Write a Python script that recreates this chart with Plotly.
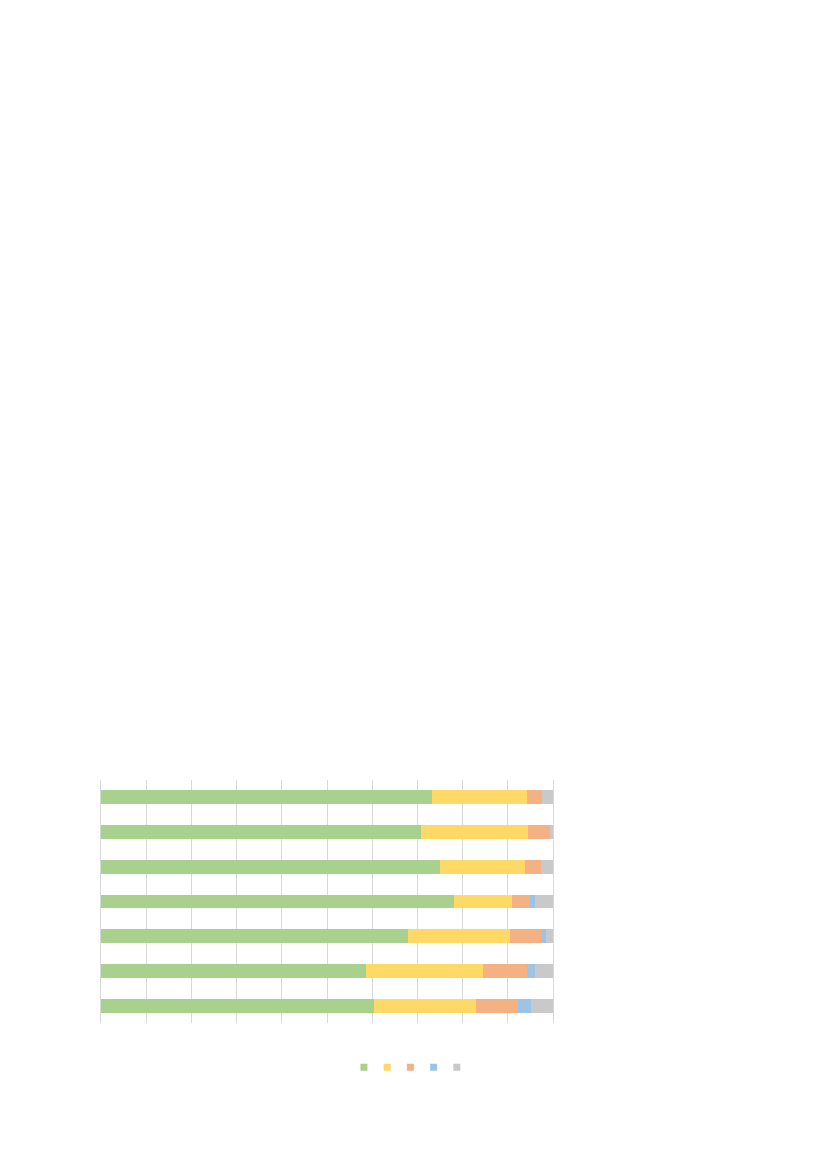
import plotly.graph_objects as go

# no labels are readable in the picture, so placeholder names
categories = ['1', '2', '3', '4', '5', '6', '7']
series_names = ['Serie 1', 'Serie 2', 'Serie 3', 'Serie 4', 'Serie 5']
colors = ['#A9D18E', '#FFD966', '#F4B183', '#9DC3E6', '#C9C9C9']

s1 = [73.2, 70.9, 75.1, 78.2, 67.9, 58.6, 60.4]
s2 = [21.0, 23.6, 18.7, 12.8, 22.5, 26.0, 22.5]
s3 = [3.3, 4.9, 3.6, 4.0, 6.9, 9.6, 9.4]
s4 = [0.0, 0.0, 0.0, 1.1, 1.1, 1.8, 2.9]
s5 = [2.5, 0.6, 2.6, 3.9, 1.6, 4.0, 4.8]

series = [s1, s2, s3, s4, s5]

fig = go.Figure()

for name, values, color in zip(series_names, series, colors):
    fig.add_trace(go.Bar(
        y=categories,
        x=values,
        name=name,
        orientation='h',
        marker=dict(color=color, line=dict(width=0)),
        showlegend=False
    ))

# legend swatches, drawn on their own small axis below the plot
fig.add_trace(go.Scatter(
    x=list(range(len(series_names))),
    y=[0] * len(series_names),
    mode='markers',
    marker=dict(symbol='square', size=7, color=colors),
    text=series_names,
    hoverinfo='text',
    showlegend=False,
    xaxis='x2',
    yaxis='y2'
))

fig.update_layout(
    barmode='stack',
    bargap=0.6,
    width=827,
    height=1169,
    margin=dict(l=93, r=282, t=772, b=88),
    paper_bgcolor='white',
    plot_bgcolor='white',
    xaxis=dict(
        range=[0, 100],
        dtick=10,
        showgrid=True,
        gridcolor='#D9D9D9',
        gridwidth=1,
        zeroline=False,
        showticklabels=False,
        ticks='',
        anchor='y'
    ),
    yaxis=dict(
        domain=[0.2136, 1],
        autorange='reversed',
        showgrid=False,
        showticklabels=False,
        ticks='',
        showline=True,
        mirror=True,
        linecolor='#D9D9D9',
        linewidth=1,
        zeroline=False
    ),
    xaxis2=dict(
        domain=[0.556, 0.813],
        range=[-0.5, 4.5],
        anchor='y2',
        visible=False
    ),
    yaxis2=dict(
        domain=[0.04, 0.10],
        range=[-1, 1],
        anchor='x2',
        visible=False
    )
)

fig.write_html("out.html")
